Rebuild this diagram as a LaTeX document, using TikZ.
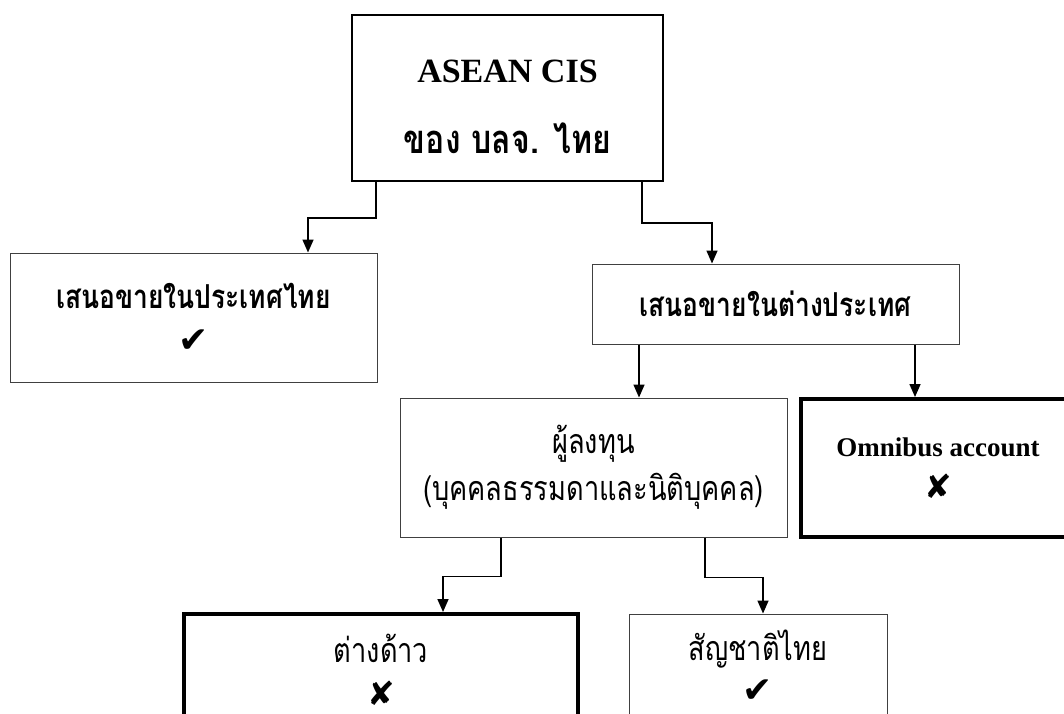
\documentclass[tikz,border=0pt]{standalone}
\usepackage{fontspec}
\setmainfont{Liberation Serif}
\newfontfamily\thaifont[Script=Thai, FakeStretch=0.8]{Loma}
\newfontfamily\symbfont{DejaVu Sans}
\usetikzlibrary{arrows.meta}
\tikzstyle{box} = [draw=black!75, line width=1pt, inner sep=0pt, align=center]
\tikzstyle{heavybox} = [draw=black, line width=4pt, inner sep=0pt, align=center]
\tikzstyle{link} = [-{Triangle[length=13pt,width=11pt]}, line width=1.6pt]
\newcommand{\okmark}{{\symbfont\fontsize{36}{36}\selectfont ✔}}
\newcommand{\nomark}{{\symbfont\fontsize{33}{33}\selectfont ✘}}

\begin{document}
\begin{tikzpicture}[x=1pt, y=-1pt]
    \useasboundingbox (0,0) rectangle (1064,713);

    % Top box
    \node[box, draw=black, line width=2pt, minimum width=311pt, minimum height=166pt,
          font=\bfseries\fontsize{34}{71}\selectfont] (asean) at (507.5,98)
        {\rule{0pt}{40pt}ASEAN CIS\\{\thaifont\fontsize{40}{71}\selectfont ของ บลจ. ไทย}};

    % Second level
    \node[box, minimum width=367pt, minimum height=129pt,
          font=\thaifont\bfseries\fontsize{33}{44}\selectfont] (home) at (193.5,317.5)
        {เสนอขายในประเทศไทย\\\okmark};
    \node[box, minimum width=367pt, minimum height=80pt,
          font=\thaifont\bfseries\fontsize{33}{42}\selectfont] (abroad) at (775.5,304)
        {เสนอขายในต่างประเทศ};

    % Third level
    \node[box, minimum width=387pt, minimum height=139pt,
          font=\thaifont\fontsize{34}{47}\selectfont] (investor) at (593.5,467.5)
        {ผู้ลงทุน\\(บุคคลธรรมดาและนิติบุคคล)};
    \node[heavybox, minimum width=274pt, minimum height=138pt,
          font=\bfseries\fontsize{27}{42}\selectfont] (omnibus) at (938,468)
        {Omnibus account\\\nomark};

    % Bottom level
    \node[heavybox, minimum width=394pt, minimum height=112pt,
          font=\thaifont\fontsize{34}{43}\selectfont] (alien) at (381,670)
        {ต่างด้าว\\\nomark};
    \node[box, minimum width=258pt, minimum height=104pt,
          font=\thaifont\fontsize{34}{42}\selectfont] (thaiinv) at (758,666)
        {สัญชาติไทย\\\okmark};

    % Connectors
    \draw[link] ([xshift=-131.5pt]asean.south) -- ++(0,36) -| ([xshift=114.5pt]home.north);
    \draw[link] ([xshift=134.5pt]asean.south) -- ++(0,41) -| ([xshift=-63.5pt]abroad.north);
    \draw[link] ([xshift=-136.5pt]abroad.south) -- ([xshift=-136.5pt]abroad.south |- investor.north);
    \draw[link] ([xshift=139.5pt]abroad.south) -- ([xshift=139.5pt]abroad.south |- omnibus.north);
    \draw[link] ([xshift=-92.5pt]investor.south) -- ++(0,39) -| ([xshift=62pt]alien.north);
    \draw[link] ([xshift=111.5pt]investor.south) -- ++(0,40) -| ([xshift=5pt]thaiinv.north);
\end{tikzpicture}
\end{document}
